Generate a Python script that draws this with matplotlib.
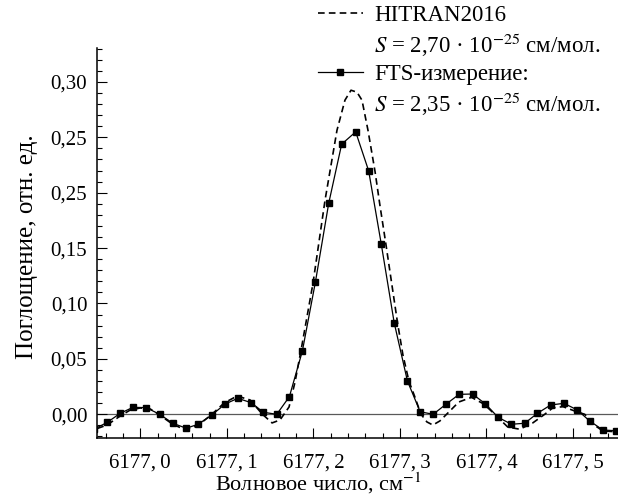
import numpy as np
import matplotlib.pyplot as plt
from matplotlib.lines import Line2D
from matplotlib.ticker import MultipleLocator, FixedLocator, FixedFormatter, FuncFormatter

plt.rcParams['font.family'] = ['Liberation Serif', 'DejaVu Serif']
plt.rcParams['mathtext.fontset'] = 'stix'

# FTS-измерение (точки)
nu_fts = [6176.9465, 6176.9616, 6176.9769, 6176.9916, 6177.0069, 6177.0223,
          6177.0377, 6177.0531, 6177.0669, 6177.0827, 6177.0981, 6177.1127,
          6177.1281, 6177.1423, 6177.1577, 6177.1723, 6177.1873, 6177.2023,
          6177.2177, 6177.2327, 6177.2489, 6177.2639, 6177.2784, 6177.2934,
          6177.3087, 6177.3234, 6177.3384, 6177.3531, 6177.3684, 6177.3839,
          6177.3989, 6177.4134, 6177.4289, 6177.4442, 6177.4589, 6177.4742,
          6177.4896, 6177.5050, 6177.5192, 6177.5346, 6177.5492]
a_fts = [-0.0135, -0.0074, 0.0009, 0.0063, 0.0060, 0.0000, -0.0081, -0.0126,
         -0.0090, -0.0006, 0.0093, 0.0144, 0.0105, 0.0018, 0.0000, 0.0159,
         0.0571, 0.1191, 0.1903, 0.2438, 0.2549, 0.2197, 0.1539, 0.0826,
         0.0300, 0.0023, 0.0000, 0.0090, 0.0180, 0.0183, 0.0093, -0.0027,
         -0.0090, -0.0081, 0.0009, 0.0084, 0.0099, 0.0039, -0.0060, -0.0142,
         -0.0148]

# HITRAN2016 (расчёт)
nu_hit = [6176.9504, 6176.9616, 6176.9769, 6176.9885, 6177.0000, 6177.0115,
          6177.0223, 6177.0369, 6177.0508, 6177.0658, 6177.0819, 6177.0969,
          6177.1119, 6177.1269, 6177.1408, 6177.1523, 6177.1615, 6177.1719,
          6177.1788, 6177.1858, 6177.1996, 6177.2135, 6177.2273, 6177.2365,
          6177.2435, 6177.2504, 6177.2562, 6177.2631, 6177.2712, 6177.2769,
          6177.2838, 6177.2908, 6177.2973, 6177.3035, 6177.3104, 6177.3173,
          6177.3242, 6177.3312, 6177.3381, 6177.3462, 6177.3539, 6177.3681,
          6177.3827, 6177.3969, 6177.4096, 6177.4246, 6177.4385, 6177.4535,
          6177.4673, 6177.4765, 6177.4884, 6177.5019, 6177.5135, 6177.5262,
          6177.5346, 6177.5492]
a_hit = [-0.0128, -0.0097, -0.0015, 0.0039, 0.0057, 0.0048, -0.0006, -0.0087,
         -0.0137, -0.0106, -0.0006, 0.0102, 0.0165, 0.0129, 0.0003, -0.0078,
         -0.0051, 0.0066, 0.0291, 0.0580, 0.1184, 0.1933, 0.2564, 0.2835,
         0.2925, 0.2907, 0.2835, 0.2564, 0.2194, 0.1887, 0.1536, 0.1166,
         0.0823, 0.0535, 0.0300, 0.0156, 0.0003, -0.0069, -0.0097, -0.0060,
         0.0000, 0.0111, 0.0153, 0.0093, 0.0000, -0.0115, -0.0135, -0.0078,
         0.0000, 0.0057, 0.0069, 0.0030, 0.0000, -0.0106, -0.0151, -0.0157]

y_ticks = [0.00, 0.05, 0.10, 0.15, 0.20, 0.25, 0.30]
y_tick_labels = ['0,00', '0,05', '0,10', '0,15', '0,25', '0,25', '0,30']

fig = plt.figure(figsize=(6.18, 4.99), dpi=100)
ax = fig.add_axes([97 / 618, 61 / 499, 521 / 618, 390 / 499])

ax.axhline(0, color='0.35', lw=0.9, zorder=1)
ax.plot(nu_hit, a_hit, color='black', lw=1.2, dashes=(4, 2.5), zorder=2)
ax.plot(nu_fts, a_fts, color='black', lw=0.9, marker='s', ms=3.8, zorder=3)

ax.set_xlim(6176.95, 6177.552)
ax.set_ylim(-0.0214, 0.3306)

ax.xaxis.set_major_locator(MultipleLocator(0.1))
ax.xaxis.set_minor_locator(MultipleLocator(0.02))
ax.xaxis.set_major_formatter(FuncFormatter(lambda v, p: f'{v:.1f}'.replace('.', ',\u2009')))
ax.yaxis.set_major_locator(FixedLocator(y_ticks))
ax.yaxis.set_major_formatter(FixedFormatter(y_tick_labels))
ax.yaxis.set_minor_locator(MultipleLocator(0.01))

ax.tick_params(which='both', direction='in', width=0.8, labelsize=15)
ax.tick_params(which='major', length=7.2)
ax.tick_params(which='minor', length=3.6)
ax.tick_params(axis='y', pad=7)
ax.tick_params(axis='x', pad=11)

for s in ['top', 'right']:
    ax.spines[s].set_visible(False)
for s in ['left', 'bottom']:
    ax.spines[s].set_linewidth(1.1)

ax.set_xlabel('Волновое число, см$^{-1}$', fontsize=16, x=0.424, labelpad=-1)
ax.set_ylabel('Поглощение, отн. ед.', fontsize=18, labelpad=9, y=0.49)

blank = Line2D([], [], color='none')
handles = [Line2D([], [], color='black', lw=1.2, dashes=(4, 2.5)), blank,
           Line2D([], [], color='black', lw=0.9, marker='s', ms=3.8), blank]
labels = ['HITRAN2016',
          '$S$ = 2,70 · 10$^{-25}$ см/мол.',
          'FTS-измерение:',
          '$S$ = 2,35 · 10$^{-25}$ см/мол.']
fig.legend(handles, labels, loc='upper left', bbox_to_anchor=(318 / 618, 1 - 5 / 499),
           frameon=False, fontsize=16.5, handlelength=1.95, handletextpad=0.5,
           borderpad=0.0, borderaxespad=0.0, labelspacing=0.22)

fig.savefig('out.png', dpi=100)
